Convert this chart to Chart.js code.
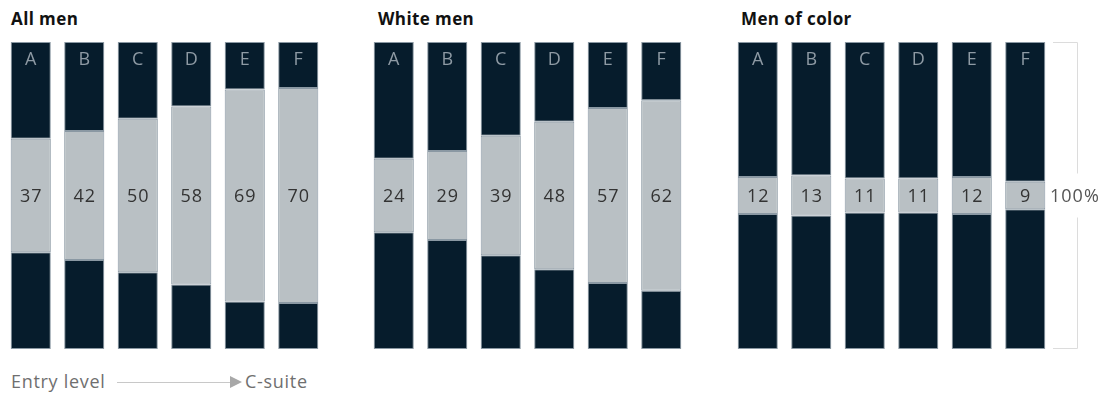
<!DOCTYPE html>
<html>
<head>
<meta charset="utf-8">
<script src="https://cdn.jsdelivr.net/npm/chart.js"></script>
<style>
  html, body { margin: 0; padding: 0; background: #fff; }
  body { width: 1110px; height: 394px; position: relative; overflow: hidden; font-family: "Open Sans", "Liberation Sans", Arial, sans-serif; }
  .title { position: absolute; top: 7px; font-size: 17px; font-weight: 700; color: #111; letter-spacing: 0.4px; }
  canvas { position: absolute; top: 42px; }
  .foot { position: absolute; left: 11px; top: 369px; font-size: 18px; color: #6f6f6f; letter-spacing: 0.7px; white-space: nowrap; }
  .foot .line { position: absolute; left: 106px; top: 13px; width: 113px; height: 1px; background: #c8c8c8; }
  .foot .tri { position: absolute; left: 219px; top: 7px; width: 0; height: 0; border-top: 6px solid transparent; border-bottom: 6px solid transparent; border-left: 12px solid #a8a8a8; }
  .foot .end { position: absolute; left: 234px; top: 0; }
</style>
</head>
<body>
<div class="title" style="left:11px">All men</div>
<div class="title" style="left:378px">White men</div>
<div class="title" style="left:741px">Men of color</div>
<canvas id="c1" width="321" height="307" style="left:4px"></canvas>
<canvas id="c2" width="321" height="307" style="left:367px"></canvas>
<canvas id="c3" width="379" height="307" style="left:731px"></canvas>
<div class="foot">Entry level<span class="line"></span><span class="tri"></span><span class="end">C-suite</span></div>
<script>
// Share of men at each level (%), levels A (entry) to F (C-suite)
var levels = ['A', 'B', 'C', 'D', 'E', 'F'];
var allMen = [37, 42, 50, 58, 69, 70];
var whiteMen = [24, 29, 39, 48, 57, 62];
var menOfColor = [12, 13, 11, 11, 12, 9];

var darkColor = '#061c2c';
var greyColor = '#b9c0c4';
var edgeColor = '#8a98a3';
var letterFont = '400 18px "Open Sans", "Liberation Sans", Arial, sans-serif';
var valueFont = '400 18px "Open Sans", "Liberation Sans", Arial, sans-serif';

// letters on top, value in the middle band
var labelPlugin = {
  id: 'barLabels',
  afterDatasetsDraw: function(chart) {
    var ctx = chart.ctx;
    var mid = chart.getDatasetMeta(1);
    var top = chart.getDatasetMeta(2);
    ctx.save();
    ctx.textAlign = 'center';
    ctx.textBaseline = 'middle';
    ctx.letterSpacing = '1px';
    ctx.font = letterFont;
    top.data.forEach(function(el, i) {
      ctx.fillStyle = '#8e9aa4';
      ctx.fillText(chart.data.labels[i], el.x + 0.5, 18);
    });
    ctx.font = valueFont;
    mid.data.forEach(function(el, i) {
      ctx.fillStyle = '#333';
      ctx.fillText(chart.data.datasets[1].data[i], el.x + 0.5, (el.y + el.base) / 2 + 1);
    });
    ctx.restore();
  }
};

// bracket with 100% on the right of the last panel
var bracketPlugin = {
  id: 'bracket',
  afterDraw: function(chart) {
    if (!chart.options.plugins.bracket || !chart.options.plugins.bracket.show) return;
    var ctx = chart.ctx;
    var a = chart.chartArea;
    var x0 = a.right + 1, x1 = a.right + 25;
    var cy = (a.top + a.bottom) / 2;
    ctx.save();
    ctx.strokeStyle = '#dcdcdc';
    ctx.lineWidth = 1;
    ctx.beginPath();
    ctx.moveTo(x0, a.top + 0.5); ctx.lineTo(x1 + 0.5, a.top + 0.5); ctx.lineTo(x1 + 0.5, cy - 22);
    ctx.moveTo(x1 + 0.5, cy + 22); ctx.lineTo(x1 + 0.5, a.bottom - 0.5); ctx.lineTo(x0, a.bottom - 0.5);
    ctx.stroke();
    ctx.fillStyle = '#555';
    ctx.font = valueFont;
    ctx.letterSpacing = '1px';
    ctx.textAlign = 'left';
    ctx.textBaseline = 'middle';
    ctx.fillText('100%', a.right - 2, cy + 1);
    ctx.restore();
  }
};

function makeChart(id, values, withBracket) {
  var rest = values.map(function(v) { return (100 - v) / 2; });
  var common = { borderColor: edgeColor, borderWidth: 1, borderSkipped: false, categoryPercentage: 0.75, barPercentage: 1 };
  return new Chart(document.getElementById(id), {
    type: 'bar',
    data: {
      labels: levels,
      datasets: [
        Object.assign({ data: rest, backgroundColor: darkColor }, common),
        Object.assign({ data: values, backgroundColor: greyColor }, common),
        Object.assign({ data: rest, backgroundColor: darkColor }, common)
      ]
    },
    options: {
      responsive: false,
      animation: false,
      layout: { padding: { left: 0, right: withBracket ? 58 : 0, top: 0, bottom: 0 } },
      scales: {
        x: { display: false, stacked: true },
        y: { display: false, stacked: true, min: 0, max: 100 }
      },
      plugins: {
        legend: { display: false },
        tooltip: { enabled: false },
        bracket: { show: withBracket }
      }
    },
    plugins: [labelPlugin, bracketPlugin]
  });
}

makeChart('c1', allMen, false);
makeChart('c2', whiteMen, false);
makeChart('c3', menOfColor, true);
</script>
</body>
</html>
